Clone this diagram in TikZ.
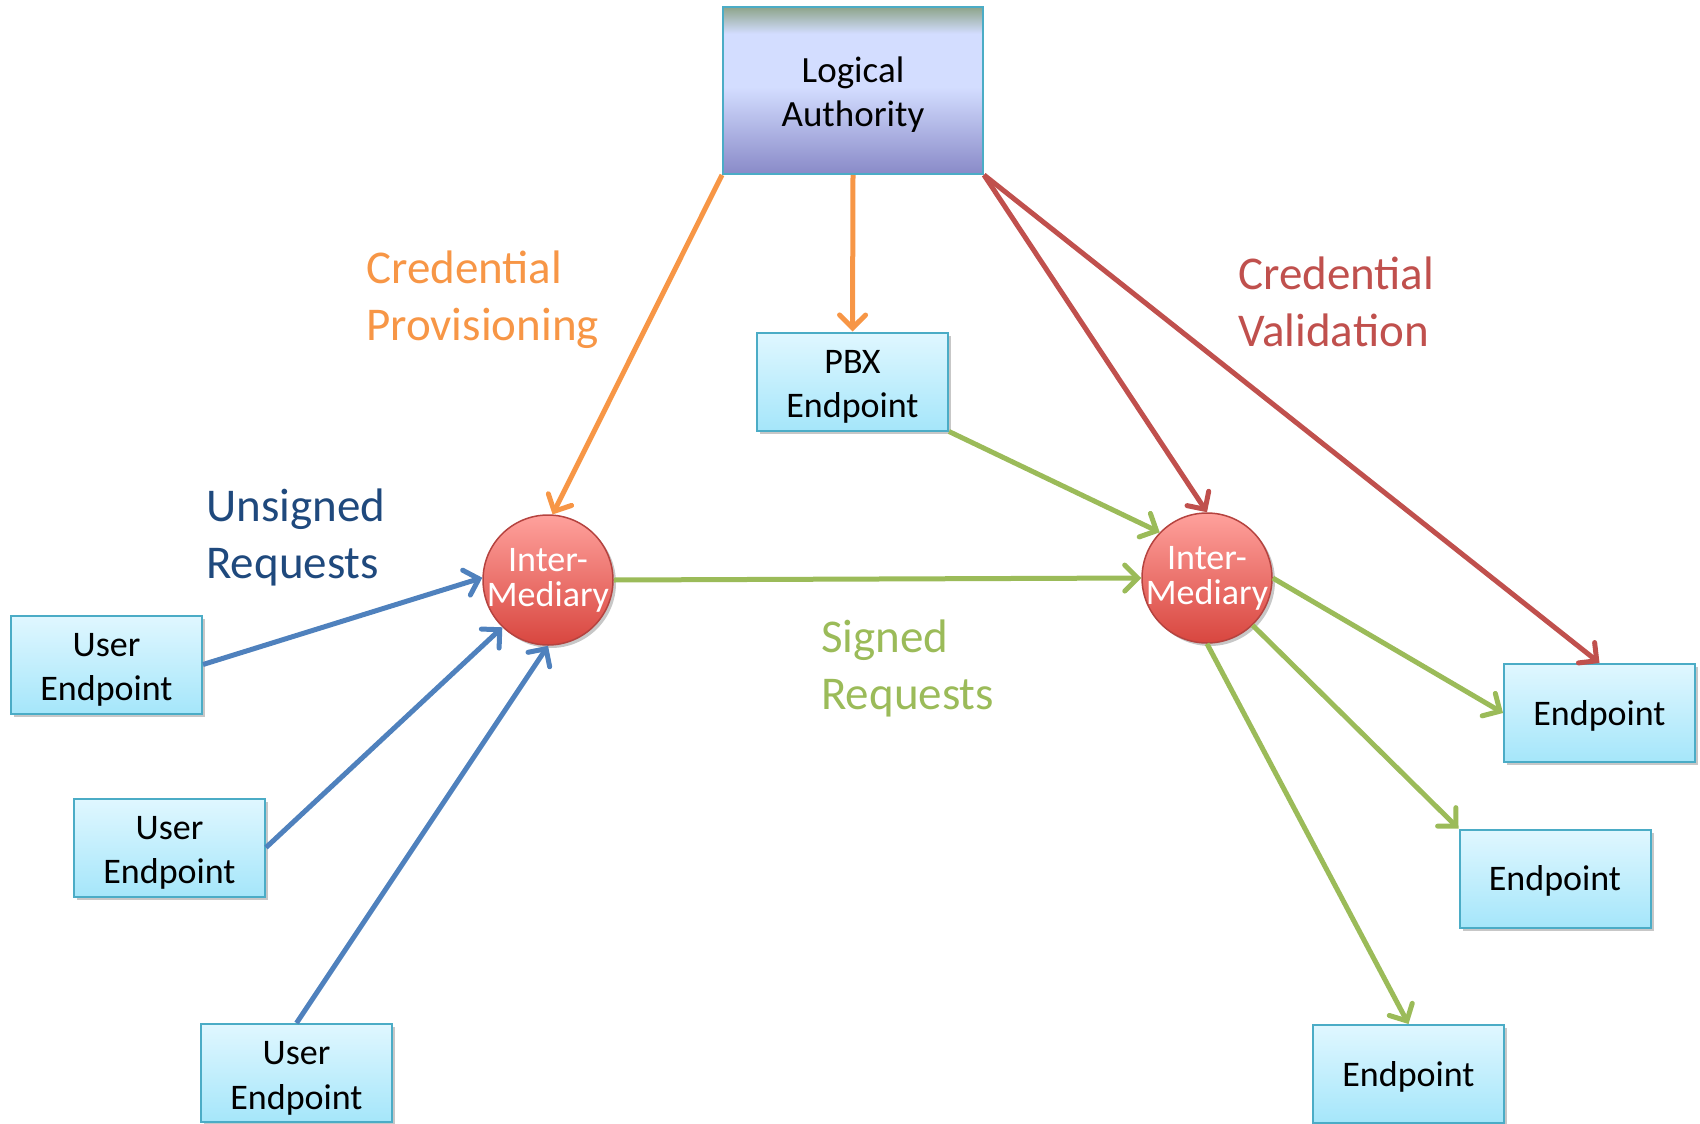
\documentclass[tikz,border=0pt]{standalone}
\usepackage{fontspec}
\setmainfont{Carlito}
\usetikzlibrary{arrows.meta,shadows}

\definecolor{cOrange}{HTML}{F79646}
\definecolor{cRed}{HTML}{C0504D}
\definecolor{cGreen}{HTML}{9BBB59}
\definecolor{cBlue}{HTML}{4F81BD}
\definecolor{cNavy}{HTML}{1F497D}
\definecolor{boxLine}{HTML}{4BACC6}
\definecolor{boxTop}{HTML}{E0F7FF}
\definecolor{boxBot}{HTML}{A5E6FA}
\definecolor{ballTop}{HTML}{FFA19C}
\definecolor{ballBot}{HTML}{D8463F}
\definecolor{ballLine}{HTML}{B5433F}
\definecolor{laTop}{HTML}{8DA48A}
\definecolor{laLight}{HTML}{D3DDFF}
\definecolor{laBot}{HTML}{898AC8}

% vertical fill of the authority box: dark band on top, light body, darker foot
\pgfdeclareverticalshading{authshade}{100bp}{color(0bp)=(laBot); color(25bp)=(laBot);
  color(51bp)=(laLight); color(67bp)=(laLight); color(75bp)=(laTop); color(100bp)=(laTop)}

% zero-width line so the circle is sized by minimum size, not by its text
\newcommand\narrow[1]{\makebox[0pt][c]{#1}}
% tall strut on a first line, setting the text a little lower in its box
\newcommand\lift[1]{\rule{0pt}{#1}}

\tikzset{
  softshadow/.style={drop shadow={shadow xshift=3pt,shadow yshift=-3pt,opacity=0.22,fill=black}},
  endbox/.style={rectangle, draw=boxLine, line width=2pt, top color=boxTop, bottom color=boxBot,
    minimum width=191pt, minimum height=98pt, align=center, inner sep=0pt,
    font=\fontsize{36}{44.5}\selectfont, softshadow},
  authbox/.style={rectangle, draw=boxLine, line width=2pt, shading=authshade,
    minimum width=260pt, minimum height=167pt, align=center, inner sep=0pt,
    font=\fontsize{37}{44.5}\selectfont},
  relay/.style={circle, draw=ballLine, line width=1.5pt, top color=ballTop, bottom color=ballBot,
    minimum size=130pt, inner sep=0pt, align=center, text=white,
    font=\fontsize{36}{35}\selectfont, softshadow},
  tag/.style={align=left, inner sep=0pt, anchor=west, font=\fontsize{47}{57}\selectfont},
  link/.style={line width=5pt, -{Straight Barb[length=13pt,width=26pt,line cap=round]}},
}

\begin{document}
\begin{tikzpicture}[x=1pt,y=-1pt]
\useasboundingbox (0,0) rectangle (1700,1124);

% nodes
\node[authbox] (la)  at (853,90.5)   {\lift{34pt}Logical\\Authority};
\node[endbox]  (pbx) at (852.5,381.5) {\lift{34pt}PBX\\Endpoint};
\node[relay]   (im1) at (548,580)    {\narrow{Inter-}\\\narrow{Mediary}};
\node[relay]   (im2) at (1207,578)   {\narrow{Inter-}\\\narrow{Mediary}};
\node[endbox]  (u1)  at (106.5,664.5) {\lift{34pt}User\\Endpoint};
\node[endbox]  (u2)  at (169.5,847.5) {\lift{34pt}User\\Endpoint};
\node[endbox]  (u3)  at (296.5,1073)  {\lift{34pt}User\\Endpoint};
\node[endbox]  (e1)  at (1599.5,713)  {\lift{30pt}Endpoint};
\node[endbox]  (e2)  at (1555,878.5)  {\lift{30pt}Endpoint};
\node[endbox]  (e3)  at (1408.5,1074) {\lift{30pt}Endpoint};

% labels
\node[tag,text=cOrange] (lprov)  at (366,300)  {Credential\\Provisioning};
\node[tag,text=cRed]    (lvalid) at (1238,302) {Credential\\Validation};
\node[tag,text=cNavy]   (lunsig) at (206,537)  {Unsigned\\Requests};
\node[tag,text=cGreen]  (lsig)   at (821,668)  {Signed\\Requests};

% credential provisioning
\draw[link,cOrange] (la.south west) -- (im1.86);
\draw[link,cOrange] (la.south) -- (pbx.north);

% credential validation
\draw[link,cRed] (la.south east) -- (im2.north);
\draw[link,cRed] (la.south east) -- (e1.north);

% unsigned requests
\draw[link,cBlue] (u1.east) -- (im1.178);
\draw[link,cBlue] (u2.east) -- (im1.226);
\draw[link,cBlue] (u3.north) -- (im1.south);

% signed requests
\draw[link,cGreen] (pbx.south east) -- (im2.136);
\draw[link,cGreen] (im1.east) -- (im2.west);
\draw[link,cGreen] (im2.east) -- (e1.west);
\draw[link,cGreen] (im2.-46) -- (e2.north west);
\draw[link,cGreen] (im2.south) -- (e3.north);
\end{tikzpicture}
\end{document}
